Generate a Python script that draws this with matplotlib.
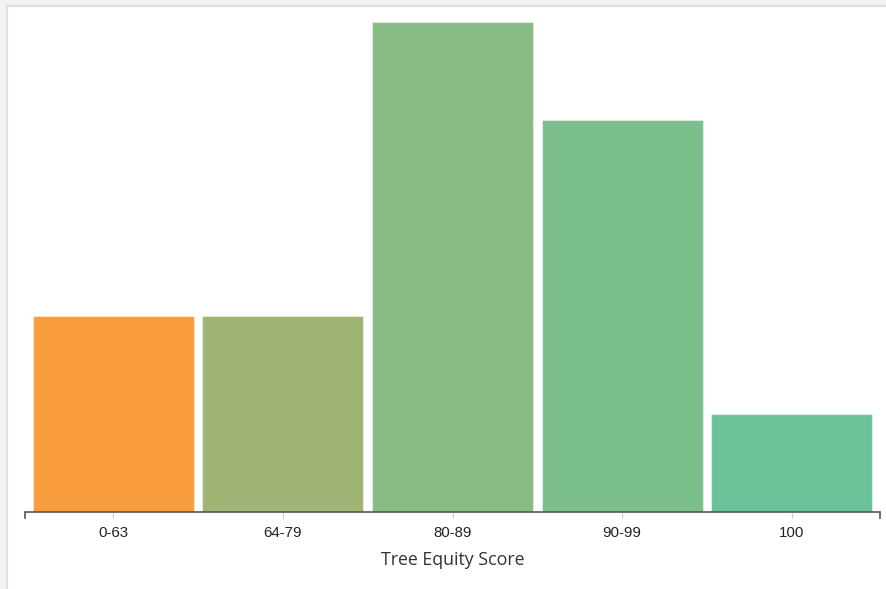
import matplotlib.pyplot as plt
from matplotlib.patches import Rectangle

# score bins and how many areas fall in each
categories = ['0-63', '64-79', '80-89', '90-99', '100']
counts = [2, 2, 5, 4, 1]
colors = ['#f99d3e', '#a0b575', '#89bb84', '#7bbf8d', '#6bc299']

W, H = 887, 589
fig = plt.figure(figsize=(W / 100, H / 100), dpi=100)
fig.patch.set_facecolor('#f1f2f4')

# white card behind the chart
card = Rectangle((7 / W, -0.01), 1.0, 1 - 6 / H + 0.01, transform=fig.transFigure,
                 facecolor='white', edgecolor='#dcdfe4', linewidth=1.6, zorder=-5)
fig.patches.append(card)

# plot area: x 25..880 px, baseline at y=512, tallest bar top at y=22
ax = fig.add_axes([25 / W, (H - 512) / H, 855 / W, 490 / H])
ax.set_facecolor('none')
ax.set_zorder(1)

x = range(len(categories))
ax.bar(x, counts, width=0.95, color=colors, edgecolor=(1, 1, 1, 0.45), linewidth=0.8)
ax.set_xlim(-0.52, len(categories) - 0.48)
ax.set_ylim(0, max(counts))

for s in ax.spines.values():
    s.set_visible(False)
ax.set_yticks([])
ax.set_xticks(list(x))
ax.set_xticklabels(categories, fontsize=10.8, color='#222222', family='Liberation Sans')
ax.tick_params(axis='x', length=4.5, width=0.8, color='#cccccc', pad=5.5)

# domain line with end ticks
tr = ax.get_xaxis_transform()
x0, x1 = ax.get_xlim()
ax.plot([x0, x0, x1, x1], [-6 / 490, 0, 0, -6 / 490], transform=tr,
        color='#555555', linewidth=1.2, clip_on=False, solid_joinstyle='miter')

ax.set_xlabel('Tree Equity Score', fontsize=12.8, color='#333333',
              family='Open Sans', labelpad=8)

fig.savefig('out.png', dpi=100, facecolor=fig.get_facecolor())
